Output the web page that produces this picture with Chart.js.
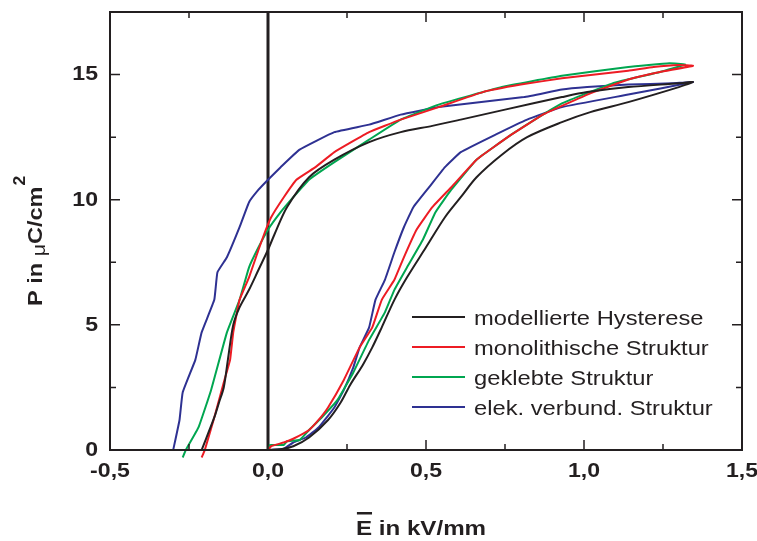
<!DOCTYPE html>
<html>
<head>
<meta charset="utf-8">
<script src="https://cdn.jsdelivr.net/npm/chart.js@4/dist/chart.umd.min.js"></script>
<style>
  body { margin: 0; background: #fff; }
  #wrap { width: 757px; height: 541px; }
</style>
</head>
<body>
<div id="wrap"><canvas id="chart" width="757" height="541"></canvas></div>
<script>
// Achsen
const xTicks = [-0.5, 0, 0.5, 1.0, 1.5];
const xTickLabels = ['-0,5', '0,0', '0,5', '1,0', '1,5'];
const xMinor = [-0.25, 0.25, 0.75, 1.25];
const yTicks = [0, 5, 10, 15];
const yTickLabels = ['0', '5', '10', '15'];
const yMinor = [2.5, 7.5, 12.5];

const seriesNames = ['modellierte Hysterese', 'monolithische Struktur', 'geklebte Struktur', 'elek. verbund. Struktur'];

// modellierte Hysterese (aufsteigender Ast, dann absteigender Ast)
const modelE = [0, 0.04, 0.08, 0.13, 0.19, 0.23, 0.26, 0.30, 0.33, 0.36, 0.40, 0.44, 0.50, 0.56, 0.61, 0.66, 0.74, 0.82, 0.93, 1.02, 1.14, 1.30, 1.345,
                1.30, 1.14, 1.01, 0.93, 0.75, 0.61, 0.52, 0.42, 0.32, 0.21, 0.13, 0.06, 0.02, 0.00, -0.03, -0.06, -0.09, -0.11, -0.127, -0.14, -0.155, -0.17, -0.21];
const modelP = [0, 0.03, 0.15, 0.5, 1.2, 1.9, 2.6, 3.4, 4.1, 4.9, 6.0, 6.9, 8.1, 9.3, 10.1, 10.9, 11.8, 12.5, 13.1, 13.5, 13.9, 14.5, 14.7,
                14.65, 14.5, 14.3, 14.1, 13.6, 13.2, 12.95, 12.7, 12.3, 11.6, 10.9, 9.7, 8.6, 8.0, 7.2, 6.4, 5.7, 5.0, 3.6, 2.5, 1.9, 1.3, 0];

// monolithische Struktur
const monoE = [0.0, 0.01, 0.05, 0.08, 0.13, 0.16, 0.19, 0.24, 0.29, 0.33, 0.36, 0.40, 0.43, 0.47, 0.52, 0.58, 0.66, 0.77, 0.87, 0.93, 1.03, 1.14, 1.24, 1.345,
               1.30, 1.22, 1.14, 0.93, 0.80, 0.68, 0.54, 0.42, 0.32, 0.21, 0.15, 0.09, 0.05, 0.01, -0.01, -0.03, -0.06, -0.09, -0.11, -0.12, -0.14, -0.17, -0.20, -0.21];
const monoP = [0, 0.15, 0.3, 0.45, 0.8, 1.2, 1.7, 2.8, 4.1, 4.9, 6.0, 6.8, 7.7, 8.8, 9.7, 10.5, 11.6, 12.6, 13.4, 13.75, 14.3, 14.8, 15.1, 15.35,
               15.38, 15.3, 15.15, 14.85, 14.6, 14.3, 13.7, 13.2, 12.7, 11.9, 11.3, 10.8, 10.1, 9.3, 8.7, 8.0, 6.9, 6.0, 4.7, 3.6, 2.7, 1.3, 0, -0.3];

// geklebte Struktur
const klebE = [0.0, 0.005, 0.02, 0.05, 0.06, 0.10, 0.13, 0.17, 0.22, 0.27, 0.32, 0.37, 0.40, 0.44, 0.49, 0.53, 0.58, 0.66, 0.77, 0.87, 0.93, 1.09, 1.24, 1.32,
               1.27, 1.14, 0.93, 0.74, 0.54, 0.42, 0.32, 0.21, 0.13, 0.08, 0.04, 0.00, -0.03, -0.06, -0.09, -0.13, -0.18, -0.22, -0.26, -0.27];
const klebP = [0, 0.2, 0.2, 0.2, 0.35, 0.4, 0.8, 1.3, 2.0, 3.1, 4.4, 5.5, 6.4, 7.3, 8.4, 9.5, 10.4, 11.6, 12.6, 13.4, 13.85, 14.65, 15.1, 15.4,
               15.45, 15.3, 14.95, 14.5, 13.8, 13.2, 12.4, 11.5, 10.8, 10.1, 9.5, 8.8, 8.1, 7.3, 6.0, 4.7, 2.4, 0.9, 0, -0.3];

// elektrisch verbundene Struktur
const verbE = [0.01, 0.05, 0.08, 0.12, 0.16, 0.21, 0.24, 0.27, 0.29, 0.32, 0.34, 0.37, 0.40, 0.43, 0.46, 0.51, 0.56, 0.61, 0.72, 0.82, 0.93, 1.14, 1.345,
               1.28, 1.14, 1.01, 0.93, 0.81, 0.54, 0.42, 0.32, 0.21, 0.10, 0.04, 0.0, -0.03, -0.06, -0.09, -0.13, -0.16, -0.17, -0.21, -0.23, -0.27, -0.28, -0.30];
const verbP = [0, 0.05, 0.3, 0.5, 0.9, 1.7, 2.4, 3.3, 4.1, 4.9, 6.0, 6.8, 7.9, 8.9, 9.7, 10.5, 11.3, 11.9, 12.6, 13.2, 13.7, 14.2, 14.7,
               14.65, 14.6, 14.5, 14.4, 14.1, 13.7, 13.4, 13.0, 12.7, 12.0, 11.3, 10.8, 10.4, 9.9, 8.9, 7.7, 7.1, 6.0, 4.7, 3.6, 2.3, 1.2, 0];

// senkrechte Linie bei E = 0
const zeroLineE = [0, 0];
const zeroLineP = [0, 17.5];

const colors = ['#231f20', '#ed1c24', '#00a650', '#2e3192'];
const ink = '#231f20';
const FONT = '"Liberation Sans", Arial, sans-serif';

function toPoints(xs, ys) {
    return xs.map((x, i) => ({ x: x, y: ys[i] }));
}

// Text leicht gestreckt zeichnen (Original wirkt breiter)
function drawText(ctx, txt, x, y, align, sx) {
    ctx.save();
    ctx.translate(x, y);
    ctx.scale(sx, 1);
    ctx.textAlign = align;
    ctx.fillText(txt, 0, 0);
    ctx.restore();
}

const axesPlugin = {
    id: 'axesPlugin',
    afterDatasetsDraw(chart) {
        const ctx = chart.ctx;
        const a = chart.chartArea;
        const xs = chart.scales.x, ys = chart.scales.y;
        ctx.save();
        ctx.strokeStyle = ink;
        ctx.fillStyle = ink;

        // Rahmen
        ctx.lineWidth = 2;
        ctx.strokeRect(a.left, a.top, a.right - a.left, a.bottom - a.top);

        // Ticks nach innen, auf allen vier Seiten
        ctx.lineWidth = 1.5;
        ctx.beginPath();
        const tickX = (v, len) => {
            const px = xs.getPixelForValue(v);
            ctx.moveTo(px, a.bottom); ctx.lineTo(px, a.bottom - len);
            ctx.moveTo(px, a.top); ctx.lineTo(px, a.top + len);
        };
        const tickY = (v, len) => {
            const py = ys.getPixelForValue(v);
            ctx.moveTo(a.left, py); ctx.lineTo(a.left + len, py);
            ctx.moveTo(a.right, py); ctx.lineTo(a.right - len, py);
        };
        xTicks.forEach(v => tickX(v, 10));
        xMinor.forEach(v => tickX(v, 6));
        yTicks.forEach(v => tickY(v, 10));
        yMinor.forEach(v => tickY(v, 6));
        ctx.stroke();

        // Tick-Beschriftung
        ctx.font = 'bold 21px ' + FONT;
        ctx.textBaseline = 'middle';
        xTicks.forEach((v, i) => {
            drawText(ctx, xTickLabels[i], xs.getPixelForValue(v), 471, 'center', 1.1);
        });
        yTicks.forEach((v, i) => {
            drawText(ctx, yTickLabels[i], 98, ys.getPixelForValue(v), 'right', 1.1);
        });

        // Achsentitel x: E mit Querstrich
        ctx.textBaseline = 'alphabetic';
        ctx.font = 'bold 21px ' + FONT;
        const xt = 'E in kV/mm';
        const sx = 1.15;
        const w = ctx.measureText(xt).width * sx;
        const x0 = 421 - w / 2;
        drawText(ctx, xt, x0, 535, 'left', sx);
        const eW = ctx.measureText('E').width * sx;
        ctx.fillRect(x0 + 1, 512, eW - 1, 2.5);

        // Achsentitel y
        ctx.save();
        ctx.translate(42, 306);
        ctx.rotate(-Math.PI / 2);
        const parts = [['P in ', 'bold 21px ' + FONT, 0], ['\u03bc', '19px ' + FONT, 3], ['C/cm', 'bold 21px ' + FONT, 0]];
        let cx = 0;
        parts.forEach(p => {
            ctx.font = p[1];
            drawText(ctx, p[0], cx, p[2], 'left', 1.12);
            cx += ctx.measureText(p[0]).width * 1.12;
        });
        ctx.font = 'bold 16px ' + FONT;
        drawText(ctx, '2', cx + 1, -17, 'left', 1.1);
        ctx.restore();

        // Legende im Diagramm
        ctx.font = '21px ' + FONT;
        const rowsY = [317, 347, 377, 407];
        seriesNames.forEach((name, i) => {
            ctx.strokeStyle = colors[i];
            ctx.lineWidth = 2;
            ctx.beginPath();
            ctx.moveTo(412, rowsY[i]);
            ctx.lineTo(465, rowsY[i]);
            ctx.stroke();
            ctx.fillStyle = ink;
            drawText(ctx, name, 474, rowsY[i] + 8, 'left', 1.13);
        });
        ctx.restore();
    }
};

const lineStyle = (label, xs, ys, color, tension) => ({
    label: label,
    data: toPoints(xs, ys),
    borderColor: color,
    backgroundColor: color,
    borderWidth: 2,
    pointRadius: 0,
    tension: tension,
    fill: false,
    clip: { left: 0, top: 0, right: 0, bottom: 8 }
});

new Chart(document.getElementById('chart'), {
    type: 'line',
    data: {
        datasets: [
            lineStyle(seriesNames[0], modelE, modelP, colors[0], 0.3),
            lineStyle(seriesNames[1], monoE, monoP, colors[1], 0.1),
            lineStyle(seriesNames[2], klebE, klebP, colors[2], 0.1),
            lineStyle(seriesNames[3], verbE, verbP, colors[3], 0.1),
            {
                label: 'E = 0',
                data: toPoints(zeroLineE, zeroLineP),
                borderColor: ink,
                borderWidth: 3,
                pointRadius: 0,
                fill: false
            }
        ]
    },
    options: {
        responsive: false,
        animation: false,
        layout: { padding: { left: 110, right: 15, top: 12, bottom: 91 } },
        plugins: {
            legend: { display: false },
            tooltip: { enabled: false }
        },
        scales: {
            x: { type: 'linear', min: -0.5, max: 1.5, display: false },
            y: { type: 'linear', min: 0, max: 17.5, display: false }
        }
    },
    plugins: [axesPlugin]
});
</script>
</body>
</html>
